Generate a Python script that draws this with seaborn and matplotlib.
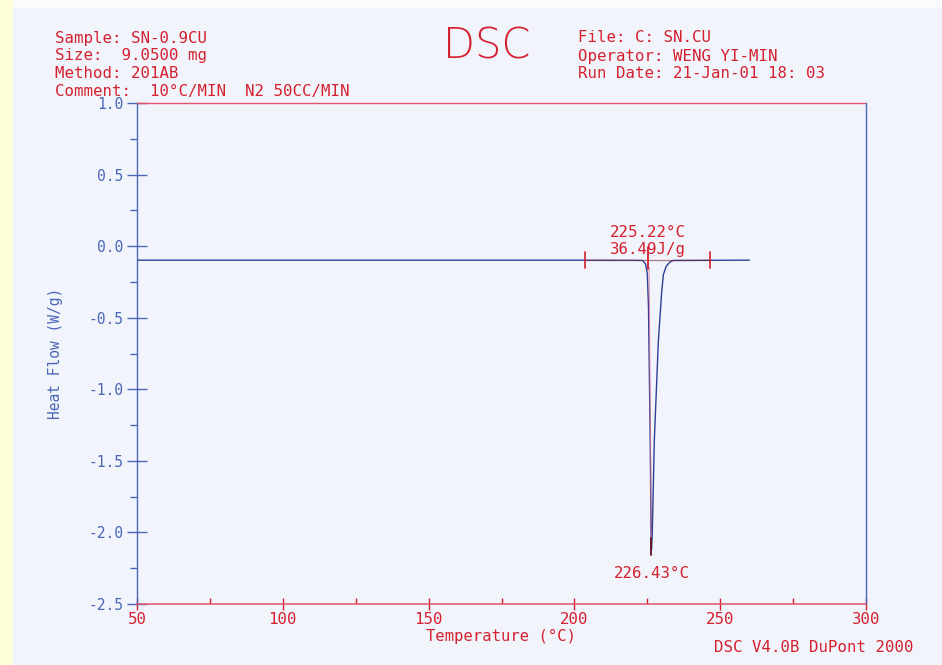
import matplotlib
matplotlib.use("Agg")
import matplotlib.pyplot as plt
from matplotlib.patches import Rectangle
from matplotlib.ticker import MultipleLocator
import numpy as np
import pandas as pd
import seaborn as sns

# Heat-flow trace of the Sn-0.9Cu sample (temperature in °C, heat flow in W/g)
temperature = [50.0, 200.0, 220.0, 223.4, 224.4, 225.0, 225.4, 226.0, 226.3, 226.43,
               226.7, 227.4, 228.8, 229.9, 230.5, 231.5, 232.8, 234.0, 245.0, 260.0]
heat_flow = [-0.098, -0.098, -0.099, -0.10, -0.125, -0.19, -0.42, -1.36, -2.01, -2.12,
             -2.01, -1.36, -0.66, -0.33, -0.20, -0.14, -0.11, -0.10, -0.099, -0.098]

# Peak analysis results
onset_temp = 225.22
peak_temp = 226.43
peak_flow = -2.12
enthalpy = 36.49
baseline_flow = -0.098
integration_limits = [203.6, 246.5]

x_ticks = [50, 100, 150, 200, 250, 300]
y_ticks = [1.0, 0.5, 0.0, -0.5, -1.0, -1.5, -2.0, -2.5]

header_left = ["Sample: SN-0.9CU", "Size:  9.0500 mg", "Method: 201AB",
               "Comment:  10°C/MIN  N2 50CC/MIN"]
header_right = ["File: C: SN.CU", "Operator: WENG YI-MIN", "Run Date: 21-Jan-01 18: 03"]

RED = "#d4202f"
RED_LINE = "#e0556a"
BLUE = "#4a66b8"
TRACE = "#2c3f96"
PAPER = "#f1f4fa"
MONO = ["DejaVu Sans Mono"]
FS = 11.3

sns.set_theme(style="white")
plt.rcParams["font.family"] = MONO

W, H = 942, 665
fig = plt.figure(figsize=(W / 100, H / 100), dpi=100, facecolor=PAPER)

# paper edge strips
fig.patches.append(Rectangle((0, 0), 13 / W, 1, transform=fig.transFigure,
                             facecolor="#fffedb", edgecolor="none", zorder=-5))
fig.patches.append(Rectangle((13 / W, 1 - 8 / H), 1, 8 / H, transform=fig.transFigure,
                             facecolor="#fafbfd", edgecolor="none", zorder=-5))

ax = fig.add_axes([137 / W, 1 - 604 / H, (866 - 137) / W, (604 - 103) / H])
ax.set_facecolor("none")

df = pd.DataFrame({"Temperature": temperature, "Heat Flow": heat_flow})
sns.lineplot(data=df, x="Temperature", y="Heat Flow", ax=ax, color=TRACE,
             linewidth=1.0, sort=False, estimator=None)

ax.set_xlim(50, 300)
ax.set_ylim(-2.5, 1.0)

# integration baseline and markers
ax.plot(integration_limits, [baseline_flow, baseline_flow], color="#7a2a40",
        linewidth=0.9, alpha=0.6, zorder=3)
for t in integration_limits:
    ax.plot([t, t], [baseline_flow - 0.055, baseline_flow + 0.055], color=RED,
            linewidth=1.2, zorder=4)
ax.plot([onset_temp, onset_temp], [baseline_flow - 0.06, baseline_flow + 0.09],
        color=RED, linewidth=1.3, zorder=4)
ax.plot([onset_temp + 0.4, peak_temp - 0.05], [baseline_flow - 0.05, peak_flow + 0.02],
        color="#e07090", linewidth=0.8, alpha=0.7, zorder=3)
ax.plot([peak_temp, peak_temp], [peak_flow - 0.04, peak_flow + 0.08], color="#601020",
        linewidth=1.3, zorder=4)

ax.text(onset_temp, 0.095, f"{onset_temp:.2f}°C", color=RED, fontsize=FS,
        ha="center", va="center")
ax.text(onset_temp, -0.02, f"{enthalpy:.2f}J/g", color=RED, fontsize=FS,
        ha="center", va="center")
ax.text(peak_temp, peak_flow - 0.17, f"{peak_temp:.2f}°C", color=RED, fontsize=FS,
        ha="center", va="center")

# axes frame
for side in ["left", "right"]:
    ax.spines[side].set_color(BLUE)
    ax.spines[side].set_linewidth(1.0)
ax.spines["bottom"].set_color(RED_LINE)
ax.spines["bottom"].set_linewidth(1.1)
ax.spines["top"].set_color(RED_LINE)
ax.spines["top"].set_linewidth(1.0)
ax.spines["top"].set_linestyle((0, (2, 1)))

ax.set_xticks(x_ticks)
ax.set_xticklabels([str(v) for v in x_ticks])
ax.set_yticks(y_ticks)
ax.set_yticklabels([f"{v:.1f}" for v in y_ticks])
ax.xaxis.set_minor_locator(MultipleLocator(25))
ax.yaxis.set_minor_locator(MultipleLocator(0.25))

ax.tick_params(axis="x", which="major", direction="inout", length=9, width=1.0,
               color=RED, labelcolor=RED, labelsize=11.3, pad=1, bottom=True)
ax.tick_params(axis="x", which="minor", direction="in", length=4, width=1.0,
               color=RED, bottom=True)
ax.tick_params(axis="y", which="major", direction="inout", length=14, width=1.0,
               color=BLUE, labelcolor=BLUE, labelsize=10.5, pad=3, left=True)
ax.tick_params(axis="y", which="minor", direction="out", length=5, width=1.0,
               color=BLUE, left=True)

ax.set_xlabel("Temperature (°C)", color=RED, fontsize=11.2, labelpad=2)
ax.set_ylabel("Heat Flow (W/g)", color=BLUE, fontsize=10.5, labelpad=18)
ax.grid(False)

# header block
for i, line in enumerate(header_left):
    fig.text(55 / W, 1 - (38 + 17.7 * i) / H, line, color=RED, fontsize=FS,
             ha="left", va="center")
for i, line in enumerate(header_right):
    fig.text(578 / W, 1 - (38 + 18 * i) / H, line, color=RED, fontsize=FS,
             ha="left", va="center")
fig.text(487 / W, 1 - 46 / H, "DSC", color=RED, fontsize=30, ha="center", va="center",
         family=["DejaVu Sans"], fontweight="light")
fig.text(913 / W, 1 - 648 / H, "DSC V4.0B DuPont 2000", color=RED, fontsize=FS,
         ha="right", va="center")

fig.savefig("out.png", dpi=100, facecolor=PAPER)
